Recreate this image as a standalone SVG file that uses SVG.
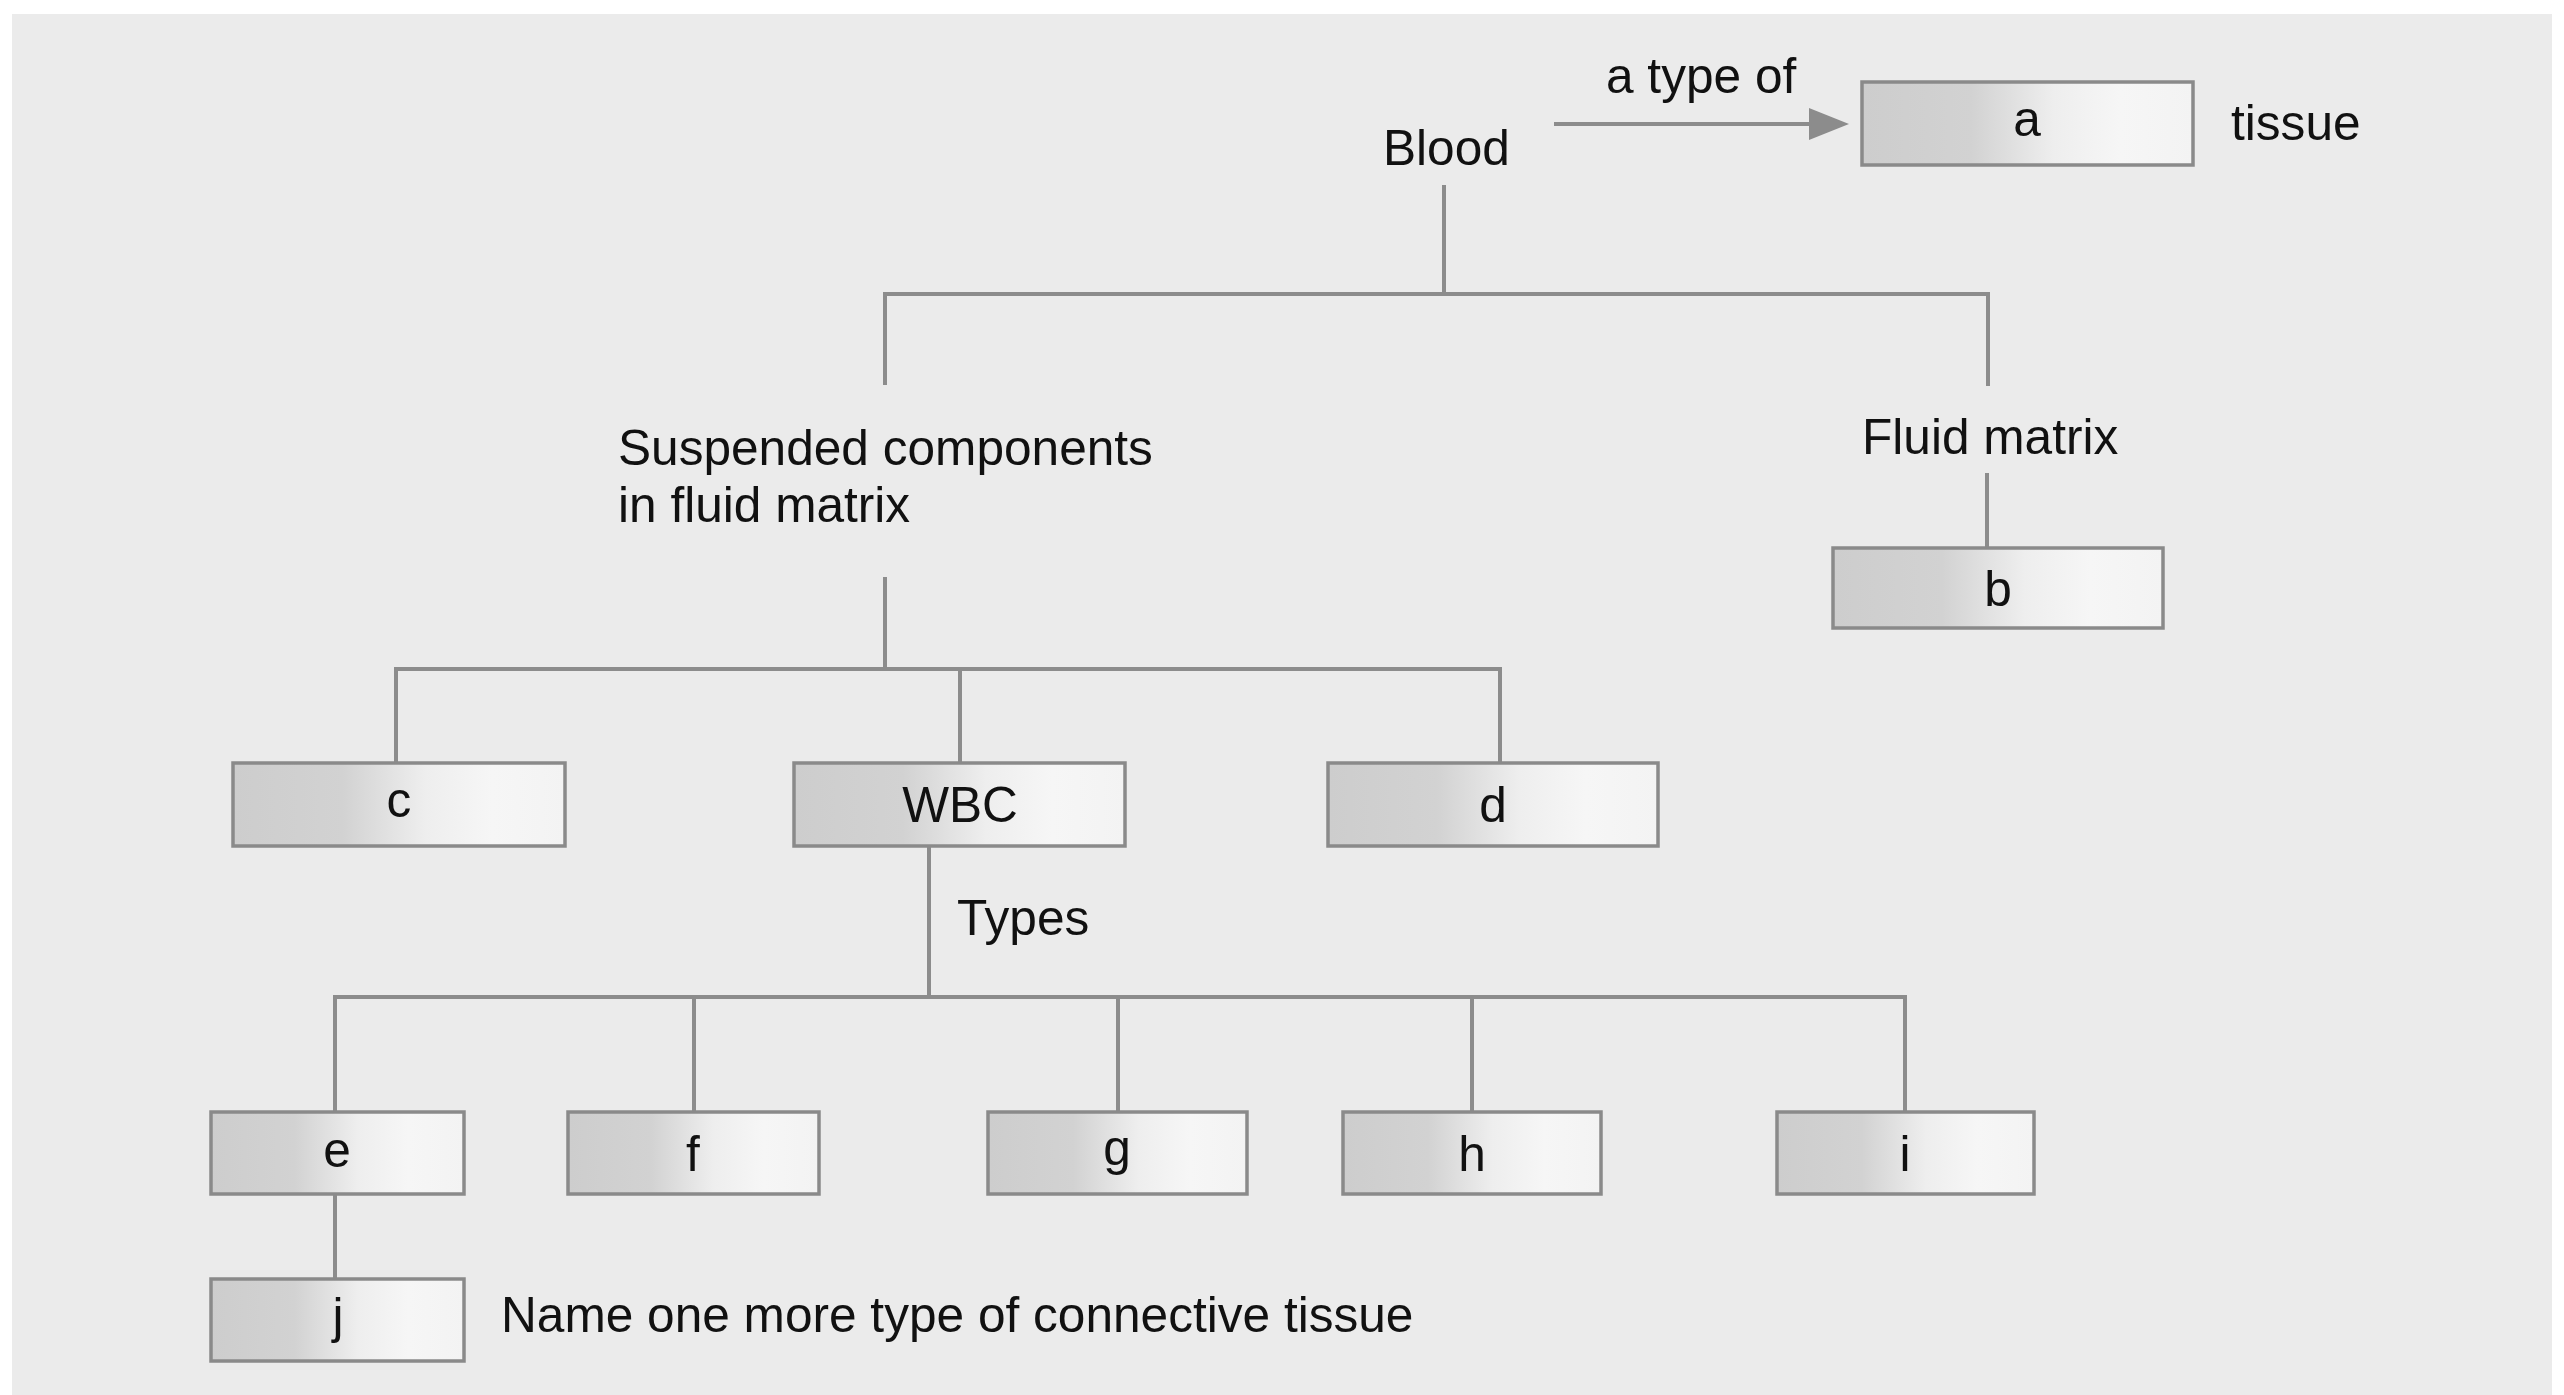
<svg xmlns="http://www.w3.org/2000/svg" width="2564" height="1395" viewBox="0 0 2564 1395">
<style>
.t{font-family:"Liberation Sans",Arial,sans-serif;font-size:49.6px;fill:#111}
.c{text-anchor:middle}
.box{fill:url(#bg);stroke:#8a8a8a;stroke-width:3.5}
.ln{fill:none;stroke:#8c8c8c;stroke-width:4}
</style>
<defs>
<linearGradient id="bg" x1="0" y1="0" x2="1" y2="0">
<stop offset="0" stop-color="#cdcdcd"/>
<stop offset="0.33" stop-color="#d2d2d2"/>
<stop offset="0.58" stop-color="#eeeeee"/>
<stop offset="0.78" stop-color="#f6f6f6"/>
<stop offset="1" stop-color="#f3f3f3"/>
</linearGradient>
</defs>
<rect x="0" y="0" width="2564" height="1395" fill="#ffffff"/>
<rect x="12" y="14" width="2540" height="1381" fill="#ebebeb"/>

<g id="connectors">
<path class="ln" d="M1444,185 V294"/>
<path class="ln" d="M885,385 V294 H1988 V386"/>
<path class="ln" d="M1987,473 V548"/>
<path class="ln" d="M885,577 V669"/>
<path class="ln" d="M396,763 V669 H1500 V763"/>
<path class="ln" d="M960,669 V763"/>
<path class="ln" d="M929,846 V997"/>
<path class="ln" d="M335,1112 V997 H1905 V1112"/>
<path class="ln" d="M694,997 V1112"/>
<path class="ln" d="M1118,997 V1112"/>
<path class="ln" d="M1472,997 V1112"/>
<path class="ln" d="M335,1194 V1279"/>
<path class="ln" d="M1554,124 H1812" stroke-width="5"/>
<polygon points="1809,108 1849,124 1809,140" fill="#8c8c8c"/>
<text class="t" x="1606" y="93">a type of</text>
<text class="t" x="957" y="935">Types</text>
</g>

<g id="blood"><text class="t" x="1383" y="165">Blood</text></g>
<g id="node-a"><rect class="box" x="1862" y="82" width="331" height="83"/><text class="t c" x="2027" y="136">a</text></g>
<g id="tissue"><text class="t" x="2231" y="140">tissue</text></g>
<g id="suspended"><text class="t" x="618" y="465">Suspended components</text><text class="t" x="618" y="522">in fluid matrix</text></g>
<g id="fluid-matrix"><text class="t" x="1862" y="454">Fluid matrix</text></g>
<g id="node-b"><rect class="box" x="1833" y="548" width="330" height="80"/><text class="t c" x="1998" y="606">b</text></g>
<g id="node-c"><rect class="box" x="233" y="763" width="332" height="83"/><text class="t c" x="399" y="817">c</text></g>
<g id="node-wbc"><rect class="box" x="794" y="763" width="331" height="83"/><text class="t c" x="960" y="822">WBC</text></g>
<g id="node-d"><rect class="box" x="1328" y="763" width="330" height="83"/><text class="t c" x="1493" y="822">d</text></g>
<g id="node-e"><rect class="box" x="211" y="1112" width="253" height="82"/><text class="t c" x="337" y="1167">e</text></g>
<g id="node-f"><rect class="box" x="568" y="1112" width="251" height="82"/><text class="t c" x="693" y="1171">f</text></g>
<g id="node-g"><rect class="box" x="988" y="1112" width="259" height="82"/><text class="t c" x="1117" y="1165">g</text></g>
<g id="node-h"><rect class="box" x="1343" y="1112" width="258" height="82"/><text class="t c" x="1472" y="1171">h</text></g>
<g id="node-i"><rect class="box" x="1777" y="1112" width="257" height="82"/><text class="t c" x="1905" y="1171">i</text></g>
<g id="node-j"><rect class="box" x="211" y="1279" width="253" height="82"/><text class="t c" x="338" y="1333">j</text></g>
<g id="note"><text class="t" x="501" y="1332">Name one more type of connective tissue</text></g>
</svg>
